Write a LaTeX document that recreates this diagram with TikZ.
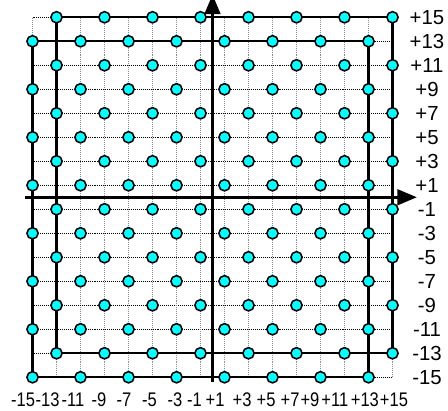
\documentclass[tikz,border=0pt]{standalone}
\usepackage{fontspec}
\setmainfont{Liberation Sans}
\usetikzlibrary{arrows.meta,backgrounds}
\definecolor{dotcyan}{RGB}{0,255,255}
\begin{document}
\begin{tikzpicture}[x=0.3cm,y=0.3cm,
  dot/.style={circle,draw=black,fill=dotcyan,line width=1.1pt,minimum size=8pt,inner sep=0pt},
  frame/.style={line width=1.5pt},
  hgrid/.style={black,line width=0.6pt,dash pattern=on 0.7pt off 0.7pt},
  vgrid/.style={black!45,line width=0.7pt,dash pattern=on 0.7pt off 0.7pt},
  axis/.style={line width=2.4pt,-{Triangle[length=14pt,width=11pt]}},
  lab/.style={font=\fontsize{14.5}{16}\selectfont,inner sep=0pt},
  blab/.style={font=\fontsize{14}{16}\selectfont,inner sep=0pt}]
\clip (-17.71,-17.81) rectangle (19.625,16.44);
% constellation points
\foreach \y in {-15,-13,...,15} {
  \pgfmathtruncatemacro\r{mod(\y+16,4)}
  \foreach \x in {-15,-13,...,15} {
    \pgfmathtruncatemacro\s{mod(\x+16,4)}
    \ifnum\r=\s
      \node[dot] (n\x y\y) at (\x,\y) {};
    \fi
  }
}
\begin{pgfonlayer}{background}
  % grid
  \foreach \v in {-15,-13,...,15} {
    \draw[vgrid] (\v,-15) -- (\v,15);
    \draw[hgrid] (-15,\v) -- (15,\v);
  }
  % frames
  \draw[frame] (n-13y15.center) -- (n15y15.center) -- (n15y-13.center) -- (n-13y-13.center) -- cycle;
  \draw[frame] (n-15y13.center) -- (n13y13.center) -- (n13y-15.center) -- (n-15y-15.center) -- cycle;
  % axes
  \coordinate (xl) at (-15.6,0);
  \coordinate (xr) at (17.04,0);
  \coordinate (yb) at (0,-15.4);
  \coordinate (yt) at (0,16.9);
  \draw[axis] (xl) -- (xr);
  \draw[axis] (yb) -- (yt);
\end{pgfonlayer}
% right labels
\foreach \y in {15,13,...,1} {
  \node[lab] (r\y) at (17.875,\y) {+\y};
}
\foreach \y in {-1,-3,...,-15} {
  \node[lab] (r\y) at (17.875,\y) {\y};
}
% bottom labels
\foreach \t/\p in {-15/-15.79,-13/-13.75,-11/-11.625,-9/-9.46,-7/-7.375,-5/-5.25,-3/-3.125,-1/-1.5,
                   +1/0.21,+3/2.46,+5/4.46,+7/6.46,+9/8.125,+11/10.2,+13/12.7,+15/15.125} {
  \node[blab] (b\t) at (\p,-16.9) {\scalebox{0.84}[1]{\t}};
}
\end{tikzpicture}
\end{document}
